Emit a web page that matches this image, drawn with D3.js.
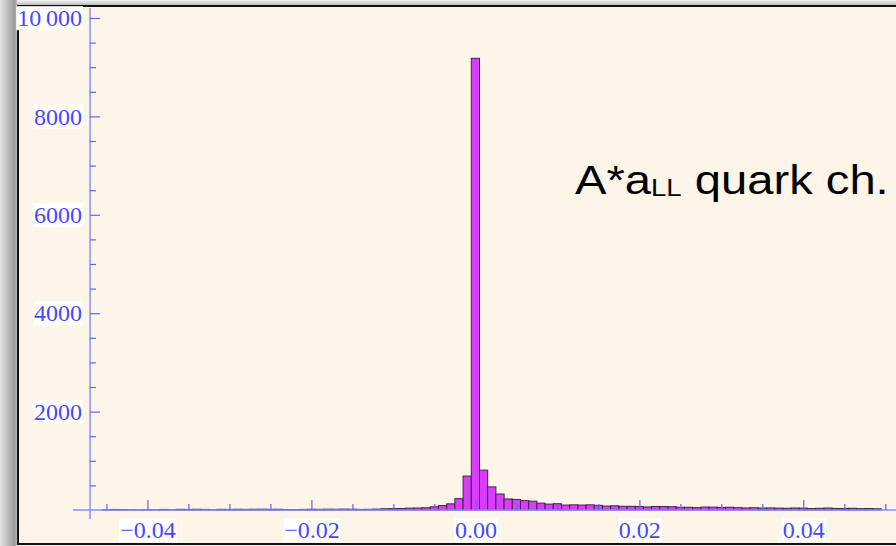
<!DOCTYPE html>
<html>
<head>
<meta charset="utf-8">
<script src="https://cdn.jsdelivr.net/npm/d3@7"></script>
<style>
body { margin: 0; background: #fff }
svg { display: block }
</style>
</head>
<body>
<svg id="chart" width="896" height="546"></svg>
<script>
// histogram of A*aLL, bins of width 0.001 centred on multiples of 0.001
const binWidth = 0.001
const firstBin = -0.047
const counts = [
    0, 0, 5, 12, 10, 4, 3, 5, 4, 12,
    6, 14, 12, 15, 12, 6, 14, 12, 15, 13,
    15, 16, 14, 15, 10, 8, 12, 15, 14, 16,
    15, 18, 16, 12, 14, 18, 25, 28, 30, 38,
    40, 45, 65, 90, 125, 230, 690, 9180, 810, 470,
    325, 225, 215, 190, 180, 140, 120, 128, 100, 105,
    100, 105, 95, 80, 85, 75, 75, 72, 62, 72,
    70, 68, 55, 55, 48, 60, 58, 52, 56, 48,
    42, 45, 40, 42, 38, 35, 40, 38, 30, 35,
    40, 32, 30, 35, 28, 30, 25
]
const xTicks = [-0.04, -0.02, 0, 0.02, 0.04]
const yTicks = [2000, 4000, 6000, 8000, 10000]
const labelMain = 'A*a'
const labelSub = 'LL'
const labelTail = ' quark ch.'

const bins = counts.map(function (c, i) { return { x: firstBin + i * binWidth, n: c } })

const W = 896, H = 546
const svg = d3.select('#chart')

const x = d3.scaleLinear().domain([-0.0492, 0.0513]).range([72, 896])
const y = d3.scaleLinear().domain([0, 10000]).range([510, 18])
const yAxisAt = -0.047

// page background and frame
const defs = svg.append('defs')
const lg = defs.append('linearGradient').attr('id', 'side').attr('x1', 0).attr('x2', 1)
lg.append('stop').attr('offset', 0).attr('stop-color', '#e4e4e4')
lg.append('stop').attr('offset', 0.25).attr('stop-color', '#cfcfcf')
lg.append('stop').attr('offset', 0.85).attr('stop-color', '#9c9c9c')
lg.append('stop').attr('offset', 1).attr('stop-color', '#bdbdbd')
const tg = defs.append('linearGradient').attr('id', 'top').attr('x1', 0).attr('x2', 0).attr('y1', 0).attr('y2', 1)
tg.append('stop').attr('offset', 0).attr('stop-color', '#f6f6f6')
tg.append('stop').attr('offset', 1).attr('stop-color', '#bcbcbc')

svg.append('rect').attr('x', 0).attr('y', 0).attr('width', W).attr('height', H).attr('fill', '#f4f4f4')
svg.append('rect').attr('x', 0).attr('y', 0).attr('width', 17).attr('height', H).attr('fill', 'url(#side)')
svg.append('rect').attr('x', 17).attr('y', 0).attr('width', W).attr('height', 5).attr('fill', 'url(#top)')
svg.append('rect').attr('x', 18).attr('y', 6).attr('width', W).attr('height', 538)
    .attr('fill', '#fdf5e8').attr('stroke', '#111').attr('stroke-width', 2)

// bars
svg.append('g').selectAll('rect').data(bins).join('rect')
    .attr('x', function (d) { return x(d.x - binWidth / 2) })
    .attr('width', function (d) { return x(d.x + binWidth / 2) - x(d.x - binWidth / 2) })
    .attr('y', function (d) { return y(d.n) })
    .attr('height', function (d) { return y(0) - y(d.n) })
    .attr('fill', '#d93cfd').attr('stroke', '#3a2a40').attr('stroke-width', 1)

const axisCol = '#8d8dff', tickCol = '#6262ff', textCol = '#4848ff'

// axis lines
svg.append('line').attr('x1', 73).attr('x2', W).attr('y1', y(0)).attr('y2', y(0))
    .attr('stroke', axisCol).attr('stroke-width', 1.5)
svg.append('line').attr('x1', x(yAxisAt)).attr('x2', x(yAxisAt)).attr('y1', 8).attr('y2', 519)
    .attr('stroke', axisCol).attr('stroke-width', 1.5)

// minor ticks
const xMinor = d3.range(-0.045, 0.0501, 0.005).filter(function (v) { return Math.abs(Math.round(v * 1000) % 20) !== 0 })
const yMinor = d3.range(500, 10000, 500).filter(function (v) { return v % 2000 !== 0 })

svg.append('g').attr('transform', 'translate(0,' + y(0) + ')')
    .call(d3.axisBottom(x).tickValues(xMinor).tickSizeInner(-6).tickSizeOuter(0).tickFormat(''))
    .call(function (g) { g.select('.domain').remove(); g.selectAll('line').attr('stroke', tickCol).attr('stroke-width', 1.2) })
svg.append('g').attr('transform', 'translate(' + x(yAxisAt) + ',0)')
    .call(d3.axisLeft(y).tickValues(yMinor).tickSizeInner(-6).tickSizeOuter(0).tickFormat(''))
    .call(function (g) { g.select('.domain').remove(); g.selectAll('line').attr('stroke', tickCol).attr('stroke-width', 1.2) })

// major ticks and labels
const xAx = svg.append('g').attr('transform', 'translate(0,' + y(0) + ')')
    .call(d3.axisBottom(x).tickValues(xTicks).tickSizeInner(-10).tickSizeOuter(0).tickPadding(11).tickFormat(d3.format('.2f')))
const yAx = svg.append('g').attr('transform', 'translate(' + x(yAxisAt) + ',0)')
    .call(d3.axisLeft(y).tickValues(yTicks).tickSizeInner(-10).tickSizeOuter(0).tickPadding(8)
        .tickFormat(function (d) { return d >= 10000 ? '10\u2009000' : String(d) }))

;[xAx, yAx].forEach(function (g) {
    g.select('.domain').remove()
    g.selectAll('line').attr('stroke', tickCol).attr('stroke-width', 1.2)
    g.selectAll('text').attr('fill', textCol).attr('font-family', '"Liberation Serif", "DejaVu Serif", serif').attr('font-size', 24)
    g.selectAll('.tick').each(function () {
        const t = d3.select(this).select('text')
        const b = t.node().getBBox()
        d3.select(this).insert('rect', 'text')
            .attr('x', b.x - 1).attr('y', b.y + 1).attr('width', b.width + 2).attr('height', b.height - 2)
            .attr('fill', '#fff')
    })
})

// in-plot label, stretched a little to the width seen in the slide
const lab = svg.append('text').attr('transform', 'translate(575,194) scale(1.15,1)')
    .attr('font-family', '"Liberation Sans", Arial, sans-serif').attr('font-size', 41).attr('fill', '#000')
lab.append('tspan').text(labelMain)
lab.append('tspan').attr('font-size', 24).attr('dy', 2).text(labelSub)
lab.append('tspan').attr('dy', -2).text(labelTail)
</script>
</body>
</html>
